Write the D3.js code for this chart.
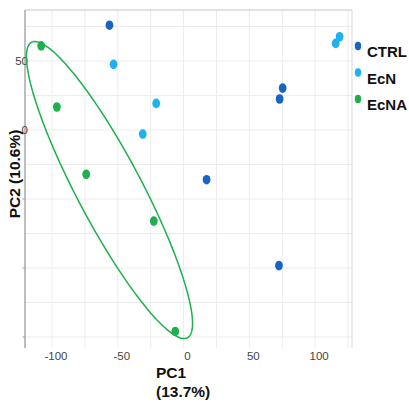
<!DOCTYPE html>
<html>
<head>
<meta charset="utf-8">
<script src="https://cdn.jsdelivr.net/npm/d3@7"></script>
<style>
  body { margin: 0; background: #fff; }
  text { font-family: Arial, "Liberation Sans", sans-serif; }
</style>
</head>
<body>
<svg id="pca"></svg>
<script>

// groups and their scores (PC1, PC2)
var groups = ["CTRL", "EcN", "EcNA"];
var colors = ["#1763c6", "#1fb0f0", "#1db04c"];

var ctrlPC1 = [-56.3, 17.5, 75.3, 73.0, 72.5];
var ctrlPC2 = [76.0, -36.0, 30.4, 22.5, -98.3];

var ecnPC1 = [-53.2, -20.8, -31.0, 115.6, 118.6];
var ecnPC2 = [47.6, 19.3, -2.9, 62.8, 67.6];

var ecnaPC1 = [-108.2, -96.3, -74.0, -22.6, -6.3];
var ecnaPC2 = [61.0, 16.7, -32.1, -66.0, -146.0];

// ellipse round EcNA: centre, then two conjugate semi axes (data units)
var ellipseCenter = [-56.3, -43.5];
var ellipseAxisU = [59.2, -107.1];
var ellipseAxisV = [-21.9, -10.9];

var xTickLabels = [-100, -50, 0, 50, 100];
var yTickLabels = [50, 0];
var yTickMarks = [-50, -100, -150];
var xGrid = [-100, -75, -50, -25, 0, 25, 50, 75, 100, 125];
var yGrid = [75, 50, 25, 0, -25, -50, -75, -100, -125, -150];

var svgWidth = 409,
    svgHeight = 404;

var plotLeft = 25, plotRight = 352, plotTop = 10, plotBottom = 348;

var svg = d3.select("#pca")
  .attr("width", svgWidth)
  .attr("height", svgHeight);

var x = d3.scaleLinear().domain([-120.5, 128]).range([plotLeft, plotRight]);
var y = d3.scaleLinear().domain([-158, 87]).range([plotBottom, plotTop]);

var points = [];
[[ctrlPC1, ctrlPC2], [ecnPC1, ecnPC2], [ecnaPC1, ecnaPC2]].forEach(function(s, gi) {
  s[0].forEach(function(v, i) {
    points.push({group: groups[gi], pc1: v, pc2: s[1][i]});
  });
});

var color = d3.scaleOrdinal().domain(groups).range(colors);

// grid
svg.append("g").selectAll("line")
  .data(xGrid.filter(function(d) { return x(d) < plotRight - 1; }))
  .enter().append("line")
  .attr("x1", function(d) { return x(d); })
  .attr("x2", function(d) { return x(d); })
  .attr("y1", plotTop).attr("y2", plotBottom)
  .attr("stroke", "#ececec").attr("stroke-width", 1);

svg.append("g").selectAll("line")
  .data(yGrid)
  .enter().append("line")
  .attr("y1", function(d) { return y(d); })
  .attr("y2", function(d) { return y(d); })
  .attr("x1", plotLeft).attr("x2", plotRight)
  .attr("stroke", "#ececec").attr("stroke-width", 1);

// border top / right, axis left
svg.append("line").attr("x1", plotLeft).attr("x2", plotRight).attr("y1", plotTop).attr("y2", plotTop)
  .attr("stroke", "#d8d8d8").attr("stroke-width", 1.5);
svg.append("line").attr("x1", plotRight).attr("x2", plotRight).attr("y1", plotTop).attr("y2", plotBottom)
  .attr("stroke", "#e0e0e0").attr("stroke-width", 1.2);
svg.append("line").attr("x1", plotLeft).attr("x2", plotLeft).attr("y1", plotTop).attr("y2", plotBottom)
  .attr("stroke", "#a8a8a8").attr("stroke-width", 1.5);

svg.append("g").selectAll("line")
  .data(yTickMarks)
  .enter().append("line")
  .attr("x1", plotLeft - 2.5).attr("x2", plotLeft)
  .attr("y1", function(d) { return y(d); })
  .attr("y2", function(d) { return y(d); })
  .attr("stroke", "#999").attr("stroke-width", 1);

// tick labels
svg.append("g").selectAll("text")
  .data(xTickLabels)
  .enter().append("text")
  .attr("x", function(d) { return x(d) + 4; })
  .attr("y", 360)
  .attr("text-anchor", "middle")
  .attr("font-size", 11.5)
  .attr("fill", "#444")
  .text(function(d) { return d; });

svg.append("g").selectAll("text")
  .data(yTickLabels)
  .enter().append("text")
  .attr("x", plotLeft + 3)
  .attr("y", function(d) { return y(d); })
  .attr("dy", "0.35em")
  .attr("text-anchor", "end")
  .attr("font-size", 11.5)
  .attr("fill", "#444")
  .text(function(d) { return d; });

// ellipse
var line = d3.line()
  .x(function(d) { return x(d[0]); })
  .y(function(d) { return y(d[1]); })
  .curve(d3.curveLinearClosed);

var ellPts = d3.range(0, 360, 2).map(function(a) {
  var t = a * Math.PI / 180;
  return [ellipseCenter[0] + Math.cos(t) * ellipseAxisU[0] + Math.sin(t) * ellipseAxisV[0],
          ellipseCenter[1] + Math.cos(t) * ellipseAxisU[1] + Math.sin(t) * ellipseAxisV[1]];
});

svg.append("path")
  .attr("d", line(ellPts))
  .attr("fill", "none")
  .attr("stroke", colors[2])
  .attr("stroke-width", 1.5);

// points
svg.append("g").selectAll("ellipse")
  .data(points)
  .enter().append("ellipse")
  .attr("cx", function(d) { return x(d.pc1); })
  .attr("cy", function(d) { return y(d.pc2); })
  .attr("rx", 3.9)
  .attr("ry", 4.8)
  .attr("fill", function(d) { return color(d.group); });

// legend
var legend = svg.append("g").selectAll("g")
  .data(groups)
  .enter().append("g")
  .attr("transform", function(d, i) { return "translate(358," + (46 + i * 26.5) + ")"; });

legend.append("ellipse")
  .attr("rx", 3.2).attr("ry", 4.2)
  .attr("fill", function(d) { return color(d); });

legend.append("text")
  .attr("x", 9)
  .attr("y", 11)
  .attr("font-size", 15)
  .attr("font-weight", "bold")
  .attr("fill", "#111")
  .text(function(d) { return d; });

// axis titles
var xt = svg.append("text")
  .attr("x", 156)
  .attr("font-size", 15.5)
  .attr("font-weight", "bold")
  .attr("fill", "#111");
xt.append("tspan").attr("x", 156).attr("y", 378).text("PC1");
xt.append("tspan").attr("x", 156).attr("y", 397).text("(13.7%)");

svg.append("text")
  .attr("transform", "translate(20,174) rotate(-90)")
  .attr("text-anchor", "middle")
  .attr("font-size", 15.5)
  .attr("font-weight", "bold")
  .attr("fill", "#111")
  .text("PC2 (10.6%)");

</script>
</body>
</html>
